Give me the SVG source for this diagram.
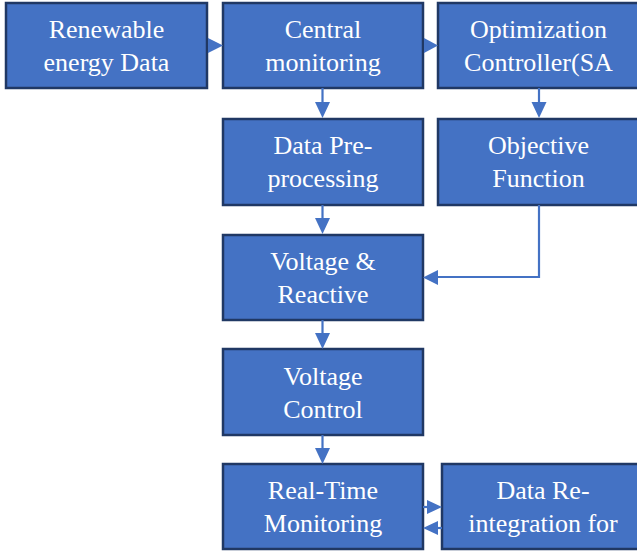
<svg xmlns="http://www.w3.org/2000/svg" width="637" height="552" viewBox="0 0 637 552">
<style>
.box{fill:#4472C4;stroke:#203864;stroke-width:2.5}
.t{fill:#fff;text-anchor:middle}
.ln{fill:none;stroke:#4472C4;stroke-width:2.2}
.hd{fill:#4472C4}
</style>
<rect width="637" height="552" fill="#fff"/>
<g id="renewable"><rect class="box" x="6" y="3" width="201" height="85"/><text class="t" font-family="Liberation Serif" font-size="26" x="106.5" y="38">Renewable</text><text class="t" font-family="Liberation Serif" font-size="26" x="106.5" y="71">energy Data</text></g>
<g id="central"><rect class="box" x="223" y="3" width="200" height="85"/><text class="t" font-family="Liberation Serif" font-size="26" x="323" y="38">Central</text><text class="t" font-family="Liberation Serif" font-size="26" x="323" y="71">monitoring</text></g>
<g id="optimization"><rect class="box" x="438" y="3" width="201" height="85"/><text class="t" font-family="Liberation Serif" font-size="26" x="538.5" y="38">Optimization</text><text class="t" font-family="Liberation Serif" font-size="26" x="538.5" y="71">Controller(SA</text></g>
<g id="preprocessing"><rect class="box" x="223" y="119" width="200" height="86"/><text class="t" font-family="Liberation Serif" font-size="26" x="323" y="154">Data Pre-</text><text class="t" font-family="Liberation Serif" font-size="26" x="323" y="187">processing</text></g>
<g id="objective"><rect class="box" x="438" y="119" width="201" height="86"/><text class="t" font-family="Liberation Serif" font-size="26" x="538.5" y="154">Objective</text><text class="t" font-family="Liberation Serif" font-size="26" x="538.5" y="187">Function</text></g>
<g id="voltage-reactive"><rect class="box" x="223" y="235" width="200" height="85"/><text class="t" font-family="Liberation Serif" font-size="26" x="323" y="270">Voltage &amp;</text><text class="t" font-family="Liberation Serif" font-size="26" x="323" y="303">Reactive</text></g>
<g id="voltage-control"><rect class="box" x="223" y="349" width="200" height="86"/><text class="t" font-family="Liberation Serif" font-size="26" x="323" y="385">Voltage</text><text class="t" font-family="Liberation Serif" font-size="26" x="323" y="418">Control</text></g>
<g id="realtime"><rect class="box" x="223" y="464" width="200" height="85"/><text class="t" font-family="Liberation Serif" font-size="26" x="323" y="499">Real-Time</text><text class="t" font-family="Liberation Serif" font-size="26" x="323" y="532">Monitoring</text></g>
<g id="reintegration"><rect class="box" x="442" y="464" width="202" height="85"/><text class="t" font-family="Liberation Serif" font-size="26" x="543" y="499">Data Re-</text><text class="t" font-family="Liberation Serif" font-size="26" x="543" y="532">integration for</text></g>
<g id="connectors">
<polygon class="hd" points="208,38 223,45.5 208,53"/>
<polygon class="hd" points="424,38 438,45.5 424,53"/>
<path class="ln" d="M322.5,88 V103"/><polygon class="hd" points="315,102 322.5,118 330,102"/>
<path class="ln" d="M539,88 V103"/><polygon class="hd" points="531.5,102 539,118 546.5,102"/>
<path class="ln" d="M322.5,205 V219"/><polygon class="hd" points="315,218 322.5,234 330,218"/>
<path class="ln" d="M539,205 V277 H437"/><polygon class="hd" points="438,270 423,277.5 438,285"/>
<path class="ln" d="M322.5,320 V334"/><polygon class="hd" points="315,333 322.5,349 330,333"/>
<path class="ln" d="M322.5,435 V449"/><polygon class="hd" points="315,448 322.5,464 330,448"/>
<path class="ln" d="M423,507 H428"/><polygon class="hd" points="427,500 442,507 427,514"/>
<path class="ln" d="M442,528 H437"/><polygon class="hd" points="438,521 423,528 438,535"/>
</g>
</svg>
